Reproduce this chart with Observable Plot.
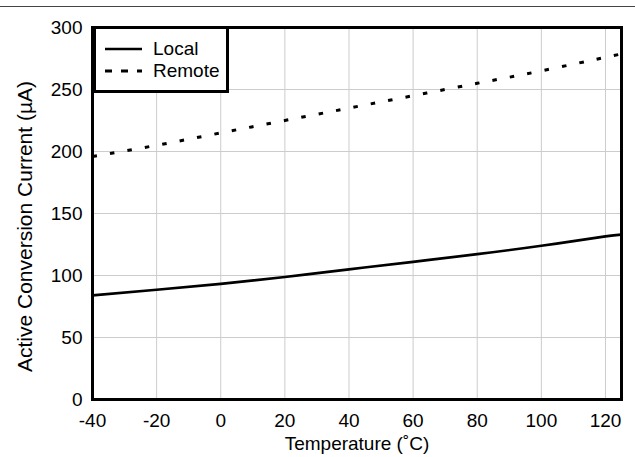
<!DOCTYPE html>
<html><head><meta charset="utf-8">
<script src="https://cdn.jsdelivr.net/npm/d3@7"></script>
<script src="https://cdn.jsdelivr.net/npm/@observablehq/plot@0.6"></script>
<style>
body{margin:0;background:#fff;font-family:"Liberation Sans",Arial,sans-serif;}
#wrap{position:relative;width:635px;height:457px;}
#topline{position:absolute;left:0;top:6px;width:635px;height:0;border-top:1.5px solid #444;}
#legend{position:absolute;left:93px;top:26px;width:130px;height:61px;border:3px solid #000;background:#fff;font-size:19px;color:#000;}
#legend .row{position:absolute;left:0;height:22px;display:flex;align-items:center;}
#legend svg{margin-left:9px;margin-right:11px;}
</style></head>
<body><div id="wrap"><div id="topline"></div><div id="chart"></div>
<div id="legend">
<div class="row" style="top:9px"><svg width="37" height="6"><line x1="0" y1="3" x2="37" y2="3" stroke="#000" stroke-width="2.5"/></svg><span>Local</span></div>
<div class="row" style="top:31px"><svg width="37" height="6"><line x1="0" y1="3" x2="37" y2="3" stroke="#000" stroke-width="3" stroke-dasharray="7,9"/></svg><span>Remote</span></div>
</div></div>
<script>
const temps = [-40, -20, 0, 20, 40, 60, 80, 100, 120, 125];
const localCurrent = [84, 88.5, 93.3, 98.8, 105, 111, 117.2, 124, 131.5, 133];
const remoteCurrent = [196, 205, 215, 225, 235, 245, 255, 265, 276, 278.5];
const xTicks = [-40, -20, 0, 20, 40, 60, 80, 100, 120];
const yTicks = [0, 50, 100, 150, 200, 250, 300];

const localData = temps.map((t, i) => ({t, v: localCurrent[i]}));
const remoteData = temps.map((t, i) => ({t, v: remoteCurrent[i]}));

const chart = Plot.plot({
  width: 635, height: 457,
  marginLeft: 92, marginRight: 14, marginTop: 27, marginBottom: 58,
  style: {fontFamily: '"Liberation Sans", Arial, sans-serif', fontSize: "19px", color: "#000", background: "transparent"},
  x: {domain: [-40, 125]},
  y: {domain: [0, 300]},
  marks: [
    Plot.gridX(xTicks, {stroke: "#cccccc", strokeOpacity: 1, strokeWidth: 1}),
    Plot.gridY(yTicks, {stroke: "#cccccc", strokeOpacity: 1, strokeWidth: 1}),
    Plot.line(localData, {x: "t", y: "v", stroke: "#000", strokeWidth: 2.7, curve: "natural"}),
    Plot.line(remoteData, {x: "t", y: "v", stroke: "#000", strokeWidth: 3, strokeDasharray: "4.5,13.2", strokeLinecap: "butt", curve: "natural"}),
    Plot.frame({stroke: "#000", strokeWidth: 3}),
    Plot.axisX(xTicks, {tickSize: 0, tickPadding: 14, fontSize: 19, tickFormat: d => String(d), label: null}),
    Plot.axisY(yTicks, {tickSize: 0, tickPadding: 10, fontSize: 19, tickFormat: d => String(d), label: null}),
    Plot.text(["Temperature (˚C)"], {frameAnchor: "bottom", dy: 44, fontSize: 19, text: d => d, lineAnchor: "middle"}),
    Plot.text(["Active Conversion Current (µA)"], {frameAnchor: "left", dx: -67, dy: 13, rotate: -90, fontSize: 21, text: d => d, lineAnchor: "middle", textAnchor: "middle"})
  ]
});
document.getElementById("chart").appendChild(chart);
</script></body></html>
